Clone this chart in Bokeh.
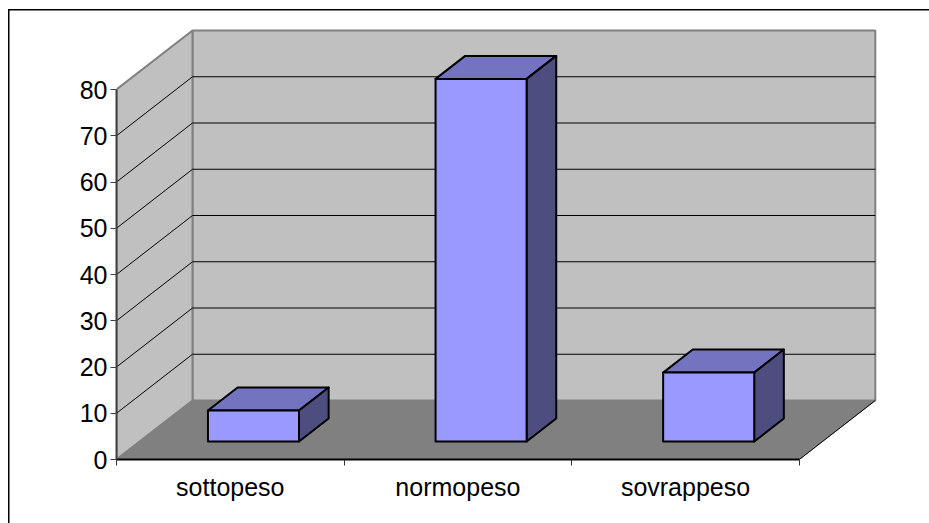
from bokeh.embed import file_html
from bokeh.models import FixedTicker, Range1d
from bokeh.plotting import figure
from bokeh.resources import INLINE

# Share of subjects in each weight class
categories = ["sottopeso", "normopeso", "sovrappeso"]
values = [6.7, 78.4, 14.9]
y_ticks = [0, 10, 20, 30, 40, 50, 60, 70, 80]

WIDTH, HEIGHT = 929, 523
LEFT, BOTTOM = 116, 64
PX_PER_CAT = 227.6
PX_PER_UNIT = 4.625

# Oblique projection: how far a point at full depth shifts, in data units
DEPTH_X = 76 / PX_PER_CAT
DEPTH_Y = 59 / PX_PER_UNIT
BAR_WIDTH = 0.40
BAR_NEAR, BAR_FAR = 0.305, 0.695

Y_MAX = y_ticks[-1]
N = len(categories)


def project(x, y, depth):
    return x + depth * DEPTH_X, y + depth * DEPTH_Y


def poly(points):
    xs, ys = zip(*[project(*pt) for pt in points])
    return list(xs), list(ys)


p = figure(
    width=WIDTH, height=HEIGHT, output_backend="svg", toolbar_location=None,
    x_range=Range1d(0, (WIDTH - LEFT) / PX_PER_CAT),
    y_range=Range1d(0, (HEIGHT - BOTTOM) / PX_PER_UNIT),
    min_border_left=LEFT, min_border_bottom=BOTTOM, min_border_top=0, min_border_right=0,
    outline_line_color=None, background_fill_color=None, border_fill_color=None,
)
p.grid.visible = False

# Chart-area border behind the transparent canvas: its top and left sides
rule = "linear-gradient(#000,#000)"
p.styles = {
    "background-color": "white",
    "background-image": f"{rule},{rule}",
    "background-repeat": "no-repeat",
    "background-position": "8px 9px,8px 9px",
    "background-size": "100% 1.5px,1.5px 100%",
}

# Walls and floor of the box
wall_color, floor_color = "#C0C0C0", "#808080"
edge = dict(line_color="#808080", line_width=2)
p.patch(*poly([(0, 0, 1), (N, 0, 1), (N, Y_MAX, 1), (0, Y_MAX, 1)]), fill_color=wall_color, **edge)
p.patch(*poly([(0, 0, 0), (0, 0, 1), (0, Y_MAX, 1), (0, Y_MAX, 0)]), fill_color=wall_color, **edge)
p.patch(*poly([(0, 0, 0), (N, 0, 0), (N, 0, 1), (0, 0, 1)]), fill_color=floor_color, line_color=floor_color)

# Gridlines wrap around the side wall and across the back
for tick in y_ticks[1:-1]:
    xs, ys = poly([(0, tick, 0), (0, tick, 1), (N, tick, 1)])
    p.line(xs, ys, line_color="black", line_width=1)

# Outer edge of the floor on the right
xs, ys = poly([(N, 0, 0), (N, 0, 1)])
p.line(xs, ys, line_color="black", line_width=1)

# Each column is drawn as its top, side and front faces
bar_line = dict(line_color="black", line_width=2, line_join="round")
for i, v in enumerate(values):
    x0, x1 = i + 0.5 - BAR_WIDTH / 2, i + 0.5 + BAR_WIDTH / 2
    p.patch(*poly([(x0, v, BAR_NEAR), (x1, v, BAR_NEAR), (x1, v, BAR_FAR), (x0, v, BAR_FAR)]),
            fill_color="#7373BF", **bar_line)
    p.patch(*poly([(x1, 0, BAR_NEAR), (x1, 0, BAR_FAR), (x1, v, BAR_FAR), (x1, v, BAR_NEAR)]),
            fill_color="#4D4D80", **bar_line)
    p.patch(*poly([(x0, 0, BAR_NEAR), (x1, 0, BAR_NEAR), (x1, v, BAR_NEAR), (x0, v, BAR_NEAR)]),
            fill_color="#9999FF", **bar_line)

# Category axis: ticks at the class boundaries, names between them
xaxis = p.xaxis[0]
xaxis.bounds = (0, N)
xaxis.ticker = FixedTicker(ticks=[i + 0.5 for i in range(N)], minor_ticks=list(range(N + 1)))
xaxis.major_label_overrides = {i + 0.5: c for i, c in enumerate(categories)}
xaxis.major_tick_line_color = None
xaxis.minor_tick_in = 0
xaxis.minor_tick_out = 6
xaxis.minor_tick_line_color = "#303030"
xaxis.axis_line_color = "black"
xaxis.axis_line_width = 2
xaxis.major_label_standoff = 7
xaxis.major_label_text_font = "Liberation Sans"
xaxis.major_label_text_font_size = "25px"
xaxis.major_label_text_color = "black"

yaxis = p.yaxis[0]
yaxis.bounds = (0, Y_MAX)
yaxis.ticker = FixedTicker(ticks=y_ticks, minor_ticks=[])
yaxis.major_tick_in = 0
yaxis.major_tick_out = 6
yaxis.major_tick_line_color = "#404040"
yaxis.axis_line_color = "#404040"
yaxis.axis_line_width = 2
yaxis.major_label_standoff = 3
yaxis.major_label_text_font = "Liberation Sans"
yaxis.major_label_text_font_size = "25px"
yaxis.major_label_text_color = "black"

open("out.html", "w").write(file_html(p, INLINE))
